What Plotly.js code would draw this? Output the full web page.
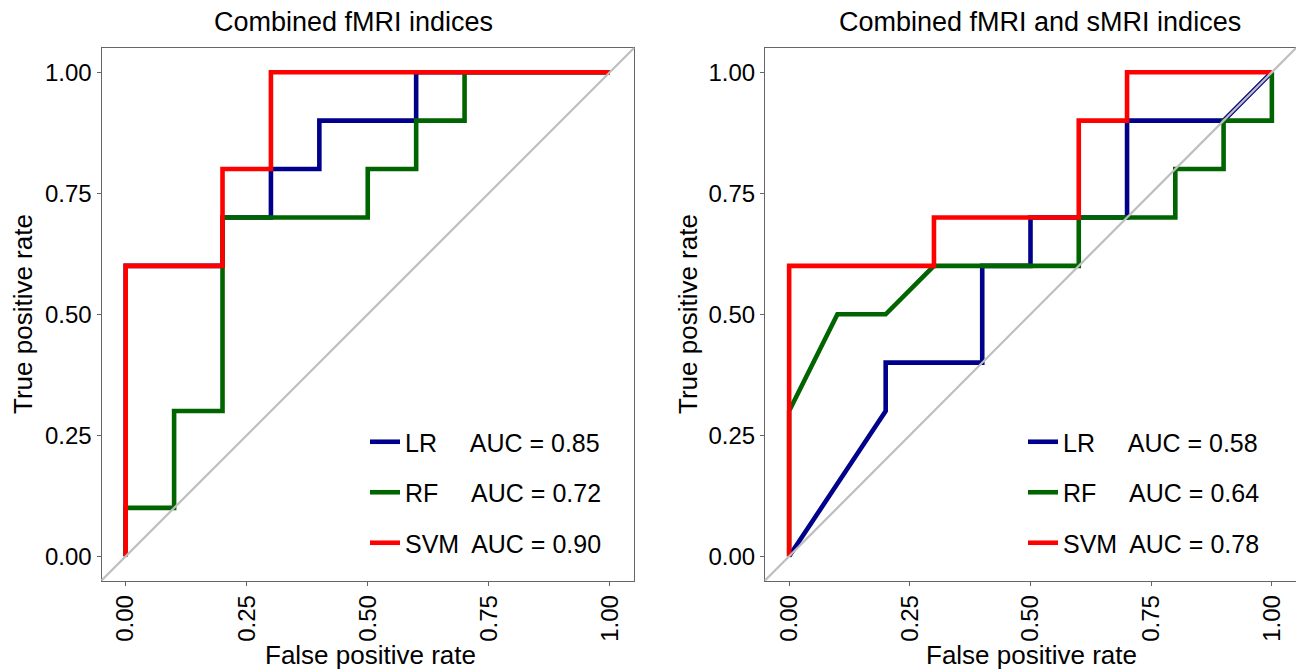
<!DOCTYPE html>
<html>
<head>
<meta charset="utf-8">
<script src="https://cdn.plot.ly/plotly-3.0.1.min.js"></script>
<style>html,body{margin:0;padding:0;background:#fff;}#chart{width:1296px;height:671px;}</style>
</head>
<body>
<div id="chart"></div>
<script>
// ---- data ----
const panelTitles = ["Combined fMRI indices", "Combined fMRI and sMRI indices"];
const modelNames = ["LR", "RF", "SVM"];
const aucLeft = ["0.85", "0.72", "0.90"];
const aucRight = ["0.58", "0.64", "0.78"];
const tickVals = [0, 0.25, 0.5, 0.75, 1];
const tickText = ["0.00", "0.25", "0.50", "0.75", "1.00"];
const axisRange = [-0.05, 1.05];

// Left panel: Combined fMRI indices
const fmriLrFpr = [0, 0, 0.2, 0.2, 0.3, 0.3, 0.4, 0.4, 0.6, 0.6, 1];
const fmriLrTpr = [0, 0.6, 0.6, 0.7, 0.7, 0.8, 0.8, 0.9, 0.9, 1, 1];
const fmriRfFpr = [0, 0, 0.1, 0.1, 0.2, 0.2, 0.5, 0.5, 0.6, 0.6, 0.7, 0.7, 1];
const fmriRfTpr = [0, 0.1, 0.1, 0.3, 0.3, 0.7, 0.7, 0.8, 0.8, 0.9, 0.9, 1, 1];
const fmriSvmFpr = [0, 0, 0.2, 0.2, 0.3, 0.3, 1];
const fmriSvmTpr = [0, 0.6, 0.6, 0.8, 0.8, 1, 1];

// Right panel: Combined fMRI and sMRI indices
const combLrFpr = [0, 0.2, 0.2, 0.4, 0.4, 0.5, 0.5, 0.7, 0.7, 0.9, 1];
const combLrTpr = [0, 0.3, 0.4, 0.4, 0.6, 0.6, 0.7, 0.7, 0.9, 0.9, 1];
const combRfFpr = [0, 0, 0.1, 0.2, 0.3, 0.6, 0.6, 0.8, 0.8, 0.9, 0.9, 1, 1];
const combRfTpr = [0, 0.3, 0.5, 0.5, 0.6, 0.6, 0.7, 0.7, 0.8, 0.8, 0.9, 0.9, 1];
const combSvmFpr = [0, 0, 0.3, 0.3, 0.6, 0.6, 0.7, 0.7, 1];
const combSvmTpr = [0, 0.6, 0.6, 0.7, 0.7, 0.9, 0.9, 1, 1];

// ---- styling ----
const W = 1296, H = 671;
const colors = ["#00008B", "#006400", "#FF0000"];
const FONT = "Liberation Sans, Arial, Helvetica, sans-serif";
const NB = "\u00A0", THIN = "\u2009";
function legendLabel(name, auc) {
  const pad = name.length >= 3 ? NB + THIN : NB.repeat(4) + THIN;
  return name + pad + "AUC = " + auc;
}

const leftData = [[fmriLrFpr, fmriLrTpr], [fmriRfFpr, fmriRfTpr], [fmriSvmFpr, fmriSvmTpr]];
const rightData = [[combLrFpr, combLrTpr], [combRfFpr, combRfTpr], [combSvmFpr, combSvmTpr]];

const traces = [];
leftData.forEach((d, i) => {
  traces.push({
    x: d[0], y: d[1], type: "scatter", mode: "lines",
    xaxis: "x", yaxis: "y",
    name: legendLabel(modelNames[i], aucLeft[i]),
    legend: "legend", legendgroup: "L" + i,
    line: {color: colors[i], width: 4.6},
    hoverinfo: "skip"
  });
});
rightData.forEach((d, i) => {
  traces.push({
    x: d[0], y: d[1], type: "scatter", mode: "lines",
    xaxis: "x2", yaxis: "y2",
    name: legendLabel(modelNames[i], aucRight[i]),
    legend: "legend2", legendgroup: "R" + i,
    line: {color: colors[i], width: 4.6},
    hoverinfo: "skip"
  });
});

const px = v => v / W;
const py = v => 1 - v / H;

const xDomL = [px(101.5), px(634)];
const xDomR = [px(765), 1];
const yDom = [py(580.5), py(48)];

function xAxis(dom, anchor) {
  return {
    domain: dom, anchor: anchor, range: axisRange, autorange: false,
    tickvals: tickVals, ticktext: tickText, tickangle: -90,
    ticks: "outside", ticklen: 4, tickwidth: 1, tickcolor: "#666",
    showline: true, linecolor: "#666", linewidth: 1, mirror: true,
    showgrid: false, zeroline: false,
    tickfont: {family: FONT, size: 24, color: "#000"}
  };
}
function yAxis(anchor) {
  return {
    domain: yDom, anchor: anchor, range: axisRange, autorange: false,
    tickvals: tickVals, ticktext: tickText,
    ticks: "outside", ticklen: 4, tickwidth: 1, tickcolor: "#666",
    showline: true, linecolor: "#666", linewidth: 1, mirror: true,
    showgrid: false, zeroline: false,
    tickfont: {family: FONT, size: 24, color: "#000"}
  };
}
function legendCfg(xpx) {
  return {
    x: px(xpx), xanchor: "left", y: py(419), yanchor: "top",
    bgcolor: "rgba(0,0,0,0)", borderwidth: 0,
    font: {family: FONT, size: 25, color: "#000"},
    traceorder: "grouped", tracegroupgap: 15, itemwidth: 30
  };
}

const annFont = {family: FONT, size: 26, color: "#000"};
const titleFont = {family: FONT, size: 27, color: "#000"};
const layout = {
  width: W, height: H,
  margin: {l: 0, r: 0, t: 0, b: 0},
  paper_bgcolor: "#fff", plot_bgcolor: "#fff",
  showlegend: true,
  xaxis: xAxis(xDomL, "y"),
  yaxis: yAxis("x"),
  xaxis2: xAxis(xDomR, "y2"),
  yaxis2: yAxis("x2"),
  legend: legendCfg(365),
  legend2: legendCfg(1023),
  shapes: [
    {type: "line", xref: "x domain", yref: "y domain", x0: 0, y0: 0, x1: 1, y1: 1,
     line: {color: "#BEBEBE", width: 2.2}, layer: "above"},
    {type: "line", xref: "x2 domain", yref: "y2 domain", x0: 0, y0: 0, x1: 1, y1: 1,
     line: {color: "#BEBEBE", width: 2.2}, layer: "above"}
  ],
  annotations: [
    {text: panelTitles[0], xref: "paper", yref: "paper", x: px(353.5), y: py(22), xanchor: "center", yanchor: "middle", showarrow: false, font: titleFont},
    {text: panelTitles[1], xref: "paper", yref: "paper", x: px(1040), y: py(22), xanchor: "center", yanchor: "middle", showarrow: false, font: titleFont},
    {text: "False positive rate", xref: "paper", yref: "paper", x: px(370), y: py(655), xanchor: "center", yanchor: "middle", showarrow: false, font: annFont},
    {text: "False positive rate", xref: "paper", yref: "paper", x: px(1031), y: py(655), xanchor: "center", yanchor: "middle", showarrow: false, font: annFont},
    {text: "True positive rate", xref: "paper", yref: "paper", x: px(23), y: py(314), xanchor: "center", yanchor: "middle", textangle: -90, showarrow: false, font: annFont},
    {text: "True positive rate", xref: "paper", yref: "paper", x: px(688), y: py(314), xanchor: "center", yanchor: "middle", textangle: -90, showarrow: false, font: annFont}
  ]
};

Plotly.newPlot("chart", traces, layout, {displayModeBar: false, staticPlot: true});
</script>
</body>
</html>
